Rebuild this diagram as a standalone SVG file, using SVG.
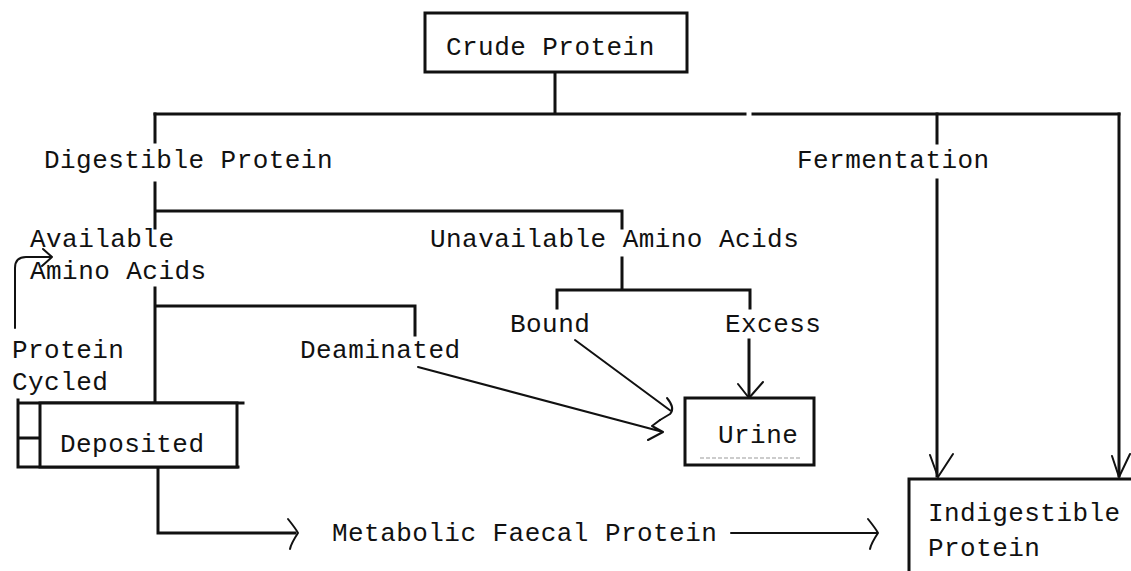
<svg xmlns="http://www.w3.org/2000/svg" width="1131" height="571" viewBox="0 0 1131 571">
<style>
text{font-family:"Liberation Mono","DejaVu Sans Mono",monospace;font-size:26px;letter-spacing:0.45px;fill:#111}
.ln{fill:none;stroke:#111;stroke-width:3;stroke-linecap:square}
.th{fill:none;stroke:#111;stroke-width:2;stroke-linecap:round;stroke-linejoin:round}
.bx{fill:#fff;stroke:#111;stroke-width:3}
</style>
<rect width="1131" height="571" fill="#fff"/>
<g id="connectors">
<path class="ln" d="M555,73 V114 M155,114 H745 M753,114 H1119"/>
<path class="ln" d="M155,114 V142 M937,114 V143"/>
<path class="ln" d="M155,183 V228 M155,211 H622 V228"/>
<path class="ln" d="M622,258 V290 M557,290 H750 M557,290 V308 M750,290 V308"/>
<path class="ln" d="M155,288 V403 M155,306 H415 V335"/>
<path class="ln" d="M937,180 V476 M1119,114 V476"/>
<path class="th" d="M930,455 L938,477 L953,454 M1112,456 L1119,477 L1130,454"/>
<path class="ln" d="M749,340 V396"/>
<path class="th" d="M738,384 L749,398 L763,382"/>
<path class="th" d="M575,340 L671,411 M667,398 C672,404 674,410 670,414 L660,420"/>
<path class="th" d="M418,367 L663,432 M660,420 L652,426 L663,432 L648,440"/>
<path class="th" d="M15,328 V268 Q15,257 26,257 H52 M43,249 L52,257 L42,266"/>
<path class="ln" d="M158,467 V533 H295"/>
<path class="th" d="M288,519 C292,524 296,529 298,533 C294,539 291,544 290,549"/>
<path class="th" d="M731,533 H876 M868,519 C872,524 876,529 878,533 C874,539 871,544 870,549"/>
</g>
<g id="crude-protein">
<rect class="bx" x="425" y="13" width="262" height="59"/>
<text x="446" y="55">Crude Protein</text>
</g>
<g id="digestible-protein"><text x="44" y="168">Digestible Protein</text></g>
<g id="fermentation"><text x="797" y="168">Fermentation</text></g>
<g id="available-amino-acids"><text x="30" y="247">Available</text><text x="30" y="279">Amino Acids</text></g>
<g id="unavailable-amino-acids"><text x="430" y="247">Unavailable Amino Acids</text></g>
<g id="bound"><text x="510" y="332">Bound</text></g>
<g id="excess"><text x="725" y="332">Excess</text></g>
<g id="deaminated"><text x="300" y="358">Deaminated</text></g>
<g id="protein-cycled"><text x="12" y="358">Protein</text><text x="12" y="390">Cycled</text></g>
<g id="deposited">
<path class="ln" d="M18,403 H243 M18,400 V467 H238 M18,438 H40"/>
<rect class="bx" x="40" y="403" width="197" height="64"/>
<text x="60" y="452">Deposited</text>
</g>
<g id="urine">
<rect class="bx" x="685" y="398" width="129" height="67"/>
<text x="718" y="443">Urine</text>
<path d="M700,458 H800" stroke="#999" stroke-width="1" stroke-dasharray="4 2"/>
</g>
<g id="metabolic-faecal-protein"><text x="332" y="541">Metabolic Faecal Protein</text></g>
<g id="indigestible-protein">
<path class="ln" d="M909,571 V479 H1131"/>
<text x="928" y="521">Indigestible</text>
<text x="928" y="556">Protein</text>
</g>
</svg>
